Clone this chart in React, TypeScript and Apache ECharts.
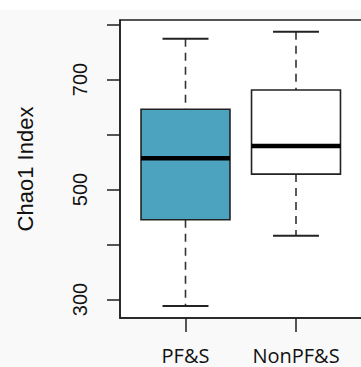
import React, { useEffect, useRef } from "react";
import * as echarts from "echarts";

const categories = ["PF&S", "NonPF&S"];
// [min, Q1, median, Q3, max]
const boxStats = [
  [288, 445, 557, 646, 774],
  [416, 528, 579, 681, 787],
];
const boxColors = ["#4BA3C0", "#FFFFFF"];
const yTickValues = [300, 400, 500, 600, 700, 800];
const yLabelValues = [300, 500, 700];
const yAxisTitle = "Chao1 Index";

export default function App() {
  const ref = useRef<HTMLDivElement>(null);
  useEffect(() => {
    if (!ref.current) return;
    const chart = echarts.init(ref.current, null, { renderer: "svg" });
    const data = boxStats.map((s, i) => [i + 1, ...s]);
    const ink = "#1e1e1e";
    chart.setOption({
      animation: false,
      backgroundColor: "#f9f9f9",
      graphic: [
        { type: "rect", shape: { x: 0, y: 0, width: 361, height: 10 }, style: { fill: "#ffffff" }, z: -10 },
      ],
      grid: {
        left: 120,
        top: 20,
        width: 246,
        height: 298,
        outerBoundsMode: "none",
        containLabel: false,
        show: true,
        backgroundColor: "#ffffff",
        borderColor: ink,
        borderWidth: 1.5,
      },
      xAxis: {
        type: "value",
        min: 0.4072,
        max: 2.6335,
        axisLine: { show: true, lineStyle: { color: ink, width: 1.5 } },
        splitLine: { show: false },
        axisTick: {
          show: true,
          length: 14,
          customValues: categories.map((_, i) => i + 1),
          lineStyle: { color: ink, width: 1.5 },
        },
        axisLabel: {
          customValues: categories.map((_, i) => i + 1),
          formatter: (v: number) => categories[Math.round(v) - 1] ?? "",
          fontFamily: "Open Sans",
          fontSize: 20,
          color: "#111",
          margin: 27,
        },
      },
      yAxis: {
        type: "value",
        min: 266.4,
        max: 808.2,
        name: yAxisTitle,
        nameLocation: "middle",
        nameGap: 84,
        nameTextStyle: { fontFamily: "Liberation Sans", fontSize: 22, color: "#111" },
        axisLine: { show: true, lineStyle: { color: ink, width: 1.5 } },
        splitLine: { show: false },
        axisTick: {
          show: true,
          length: 13,
          customValues: yTickValues,
          lineStyle: { color: ink, width: 1.5 },
        },
        axisLabel: {
          customValues: yLabelValues,
          rotate: 90,
          fontFamily: "Liberation Sans",
          fontSize: 20,
          color: "#111",
          margin: 30,
        },
      },
      series: [
        {
          type: "custom",
          data,
          encode: { x: 0, y: [1, 2, 3, 4, 5] },
          renderItem: (params: any, api: any) => {
            const x = api.value(0);
            const unit = api.size([1, 0])[0];
            const half = unit * 0.4025;
            const capHalf = unit * 0.208;
            const pMin = api.coord([x, api.value(1)]);
            const pQ1 = api.coord([x, api.value(2)]);
            const pMed = api.coord([x, api.value(3)]);
            const pQ3 = api.coord([x, api.value(4)]);
            const pMax = api.coord([x, api.value(5)]);
            const cx = pMed[0];
            const fill = boxColors[params.dataIndex];
            return {
              type: "group",
              children: [
                {
                  type: "line",
                  shape: { x1: cx, y1: pMax[1], x2: cx, y2: pQ3[1] },
                  style: { stroke: "#333", lineWidth: 1.6, lineDash: [8, 6] },
                },
                {
                  type: "line",
                  shape: { x1: cx, y1: pQ1[1], x2: cx, y2: pMin[1] },
                  style: { stroke: "#333", lineWidth: 1.6, lineDash: [8, 6] },
                },
                {
                  type: "line",
                  shape: { x1: cx - capHalf, y1: pMax[1], x2: cx + capHalf, y2: pMax[1] },
                  style: { stroke: "#222", lineWidth: 2 },
                },
                {
                  type: "line",
                  shape: { x1: cx - capHalf, y1: pMin[1], x2: cx + capHalf, y2: pMin[1] },
                  style: { stroke: "#222", lineWidth: 2 },
                },
                {
                  type: "rect",
                  shape: { x: cx - half, y: pQ3[1], width: half * 2, height: pQ1[1] - pQ3[1] },
                  style: { fill, stroke: "#222", lineWidth: 1.6 },
                },
                {
                  type: "line",
                  shape: { x1: cx - half, y1: pMed[1], x2: cx + half, y2: pMed[1] },
                  style: { stroke: "#000", lineWidth: 4.5 },
                },
              ],
            };
          },
        },
      ],
    });
    return () => chart.dispose();
  }, []);
  return (
    <div
      ref={ref}
      style={{ position: "absolute", left: 0, top: 0, width: 361, height: 367 }}
    />
  );
}
